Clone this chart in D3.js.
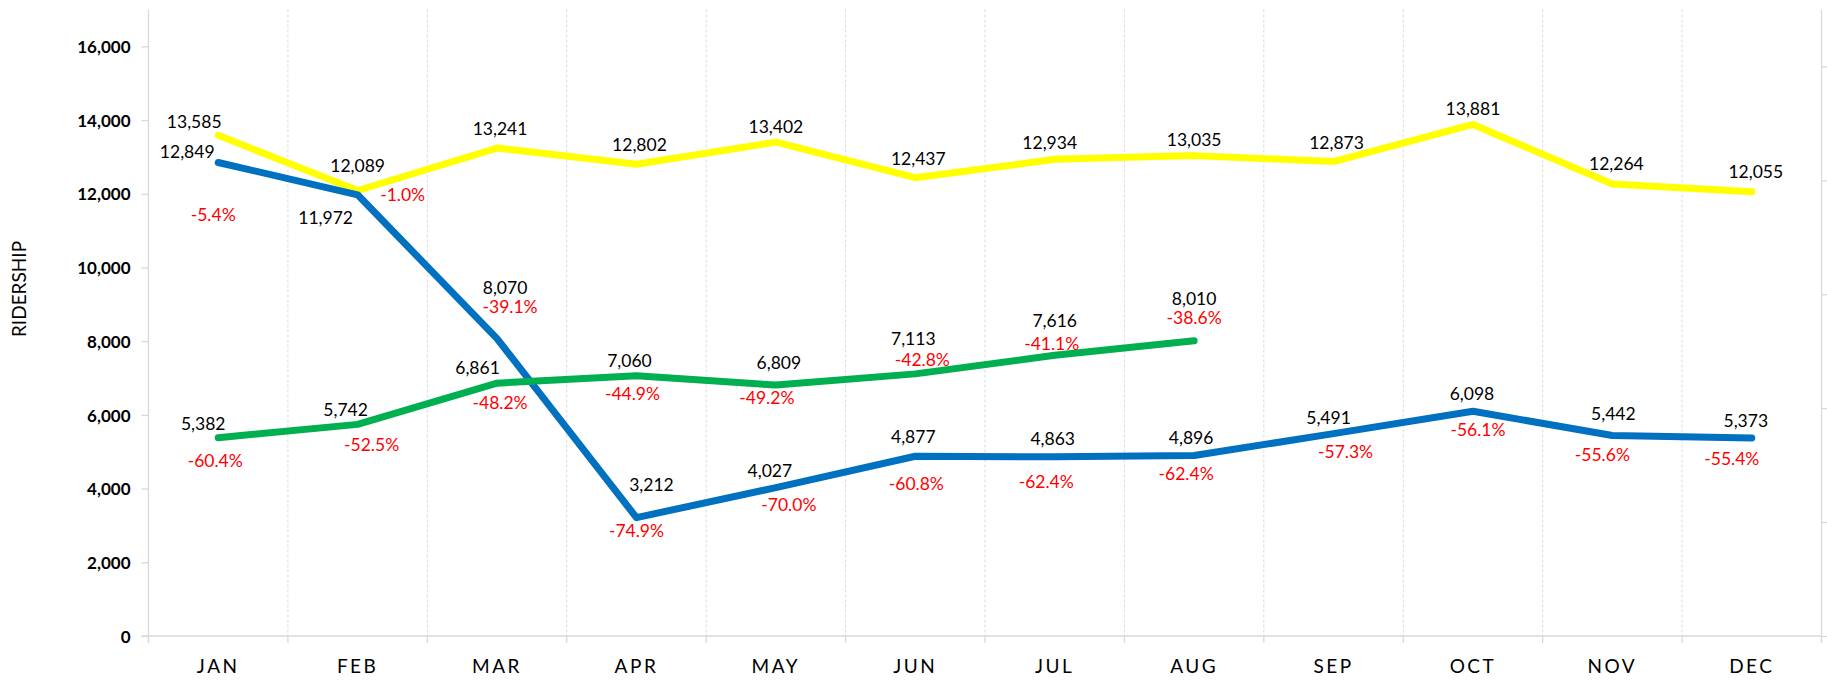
<!DOCTYPE html>
<html>
<head>
<meta charset="utf-8">
<script src="https://cdn.jsdelivr.net/npm/d3@7"></script>
<style>
  html, body { margin: 0; padding: 0; background: #fff; }
  svg { display: block; }
  text { font-family: Lato, "Open Sans", sans-serif; }
</style>
</head>
<body>
<svg id="chart" width="1827" height="680"></svg>
<script>
// ---------------- data ----------------
const months = ["JAN","FEB","MAR","APR","MAY","JUN","JUL","AUG","SEP","OCT","NOV","DEC"];
const ridership2019 = [13585, 12089, 13241, 12802, 13402, 12437, 12934, 13035, 12873, 13881, 12264, 12055];
const ridership2020 = [12849, 11972, 8070, 3212, 4027, 4877, 4863, 4896, 5491, 6098, 5442, 5373];
const ridership2021 = [5382, 5742, 6861, 7060, 6809, 7113, 7616, 8010];
const change2020 = ["-5.4%","-1.0%","-39.1%","-74.9%","-70.0%","-60.8%","-62.4%","-62.4%","-57.3%","-56.1%","-55.6%","-55.4%"];
const change2021 = ["-60.4%","-52.5%","-48.2%","-44.9%","-49.2%","-42.8%","-41.1%","-38.6%"];
const yTicks = [0, 2000, 4000, 6000, 8000, 10000, 12000, 14000, 16000];
const y2Ticks = [0, 0.2, 0.4, 0.6, 0.8, 1.0];
const yTitle = "RIDERSHIP";

// ---------------- layout (label nudges, px) ----------------
const off2019 = [[-24,-14],[0,-25],[3,-19],[3,-20],[0,-15],[3,-19],[-5,-17],[0,-16],[3,-19],[0,-16],[4,-20],[4,-20]];
const off2020 = [[-31,-11],[-32,23],[8,-51],[15,-33],[-6,-17],[-2,-20],[-2,-18.5],[-3,-18],[-5,-16],[-1,-18],[1,-22],[-6,-17]];
const offPct2020 = [[-5,52],[45,0],[13,-32],[0,13],[13,17],[1,27],[-8.5,25],[-8,18],[12,18],[5,18],[-10,19],[-20,21]];
const off2021 = [[-15,-14],[-12,-15],[-19.5,-15],[-7,-15],[3,-22],[-2,-35.5],[0,-35],[0,-42]];
const offPct2021 = [[-3,23],[14,20],[3,19.5],[-4,17.5],[-9,13],[7,-14.5],[-3,-12],[0,-23.5]];

const svg = d3.select("#chart");
const pLeft = 148.5, pRight = 1821.5, pTop = 9.5, pBottom = 636;
const x = d3.scaleBand().domain(months).range([pLeft, pRight]).paddingInner(0).paddingOuter(0);
const cx = m => x(m) + x.bandwidth() / 2;
const y = d3.scaleLinear().domain([0, 17000]).range([pBottom, pTop]);
const y2 = d3.scaleLinear().domain([0, 1.1]).range([pBottom, pTop]);
const axisColor = "#d9d9d9";

// vertical gridlines at category boundaries
const bounds = months.map(m => x(m)).concat([x(months[months.length-1]) + x.bandwidth()]);
svg.append("g").selectAll("line").data(bounds.slice(1, -1)).join("line")
  .attr("x1", d => d).attr("x2", d => d).attr("y1", pTop).attr("y2", pBottom)
  .attr("stroke", "#dcdcdc").attr("stroke-width", 1).attr("stroke-dasharray", "3,2");

// x tick marks below baseline
svg.append("g").selectAll("line").data(bounds).join("line")
  .attr("x1", d => d).attr("x2", d => d).attr("y1", pBottom).attr("y2", pBottom + 7)
  .attr("stroke", axisColor).attr("stroke-width", 1.3);

// x axis line
svg.append("line").attr("x1", pLeft - 7).attr("x2", pRight).attr("y1", pBottom).attr("y2", pBottom)
  .attr("stroke", axisColor).attr("stroke-width", 1.3);

// x labels
const xAxis = svg.append("g").attr("transform", `translate(0,${pBottom})`)
  .call(d3.axisBottom(x).tickSize(0).tickPadding(0));
xAxis.select(".domain").remove();
xAxis.selectAll("text").attr("y", 37).attr("dy", 0)
  .attr("font-size", 19).attr("fill", "#000").style("letter-spacing", "2.5px")
  .attr("font-family", "Lato, 'Open Sans', sans-serif");

// left axis
const yAxis = svg.append("g").attr("transform", `translate(${pLeft},0)`)
  .call(d3.axisLeft(y).tickValues(yTicks).tickSize(7).tickSizeOuter(0).tickPadding(11).tickFormat(d3.format(",")));
yAxis.select(".domain").remove();
yAxis.selectAll(".tick line").attr("stroke", axisColor).attr("stroke-width", 1.3);
yAxis.selectAll("text").attr("font-size", 17).attr("font-weight", "bold").attr("fill", "#000")
  .attr("font-family", "Lato, 'Open Sans', sans-serif").attr("dy", "0.36em");
svg.append("line").attr("x1", pLeft).attr("x2", pLeft).attr("y1", pTop).attr("y2", pBottom + 7)
  .attr("stroke", axisColor).attr("stroke-width", 1.3);

// right (secondary) axis
const y2Axis = svg.append("g").attr("transform", `translate(${pRight},0)`)
  .call(d3.axisRight(y2).tickValues(y2Ticks).tickSize(7).tickSizeOuter(0).tickFormat(""));
y2Axis.select(".domain").remove();
y2Axis.selectAll(".tick line").attr("stroke", axisColor).attr("stroke-width", 1.3);
svg.append("line").attr("x1", pRight).attr("x2", pRight).attr("y1", pTop).attr("y2", pBottom + 7)
  .attr("stroke", axisColor).attr("stroke-width", 1.3);

// y title
svg.append("text").attr("transform", `translate(26,289) rotate(-90)`)
  .attr("text-anchor", "middle").attr("font-size", 19).attr("fill", "#000").text(yTitle);

// lines
const line = d3.line().x(d => cx(d.m)).y(d => y(d.v));
const series = [
  { vals: ridership2019, color: "#FFFF00" },
  { vals: ridership2020, color: "#0070C0" },
  { vals: ridership2021, color: "#00B050" }
];
series.forEach(s => {
  svg.append("path").datum(s.vals.map((v, i) => ({ m: months[i], v })))
    .attr("d", line).attr("fill", "none").attr("stroke", s.color)
    .attr("stroke-width", 7).attr("stroke-linecap", "round").attr("stroke-linejoin", "round");
});

// labels
const fs = 17.5;
function labels(vals, texts, offs, color) {
  svg.append("g").selectAll("text").data(vals).join("text")
    .attr("x", (v, i) => cx(months[i]) + offs[i][0])
    .attr("y", (v, i) => y(v) + offs[i][1] + fs * 0.36)
    .attr("text-anchor", "middle").attr("font-size", fs).attr("fill", color)
    .text((v, i) => texts[i]);
}
const fmt = d3.format(",");
labels(ridership2019, ridership2019.map(fmt), off2019, "#000");
labels(ridership2020, ridership2020.map(fmt), off2020, "#000");
labels(ridership2020, change2020, offPct2020, "#FF0000");
labels(ridership2021, ridership2021.map(fmt), off2021, "#000");
labels(ridership2021, change2021, offPct2021, "#FF0000");
</script>
</body>
</html>
